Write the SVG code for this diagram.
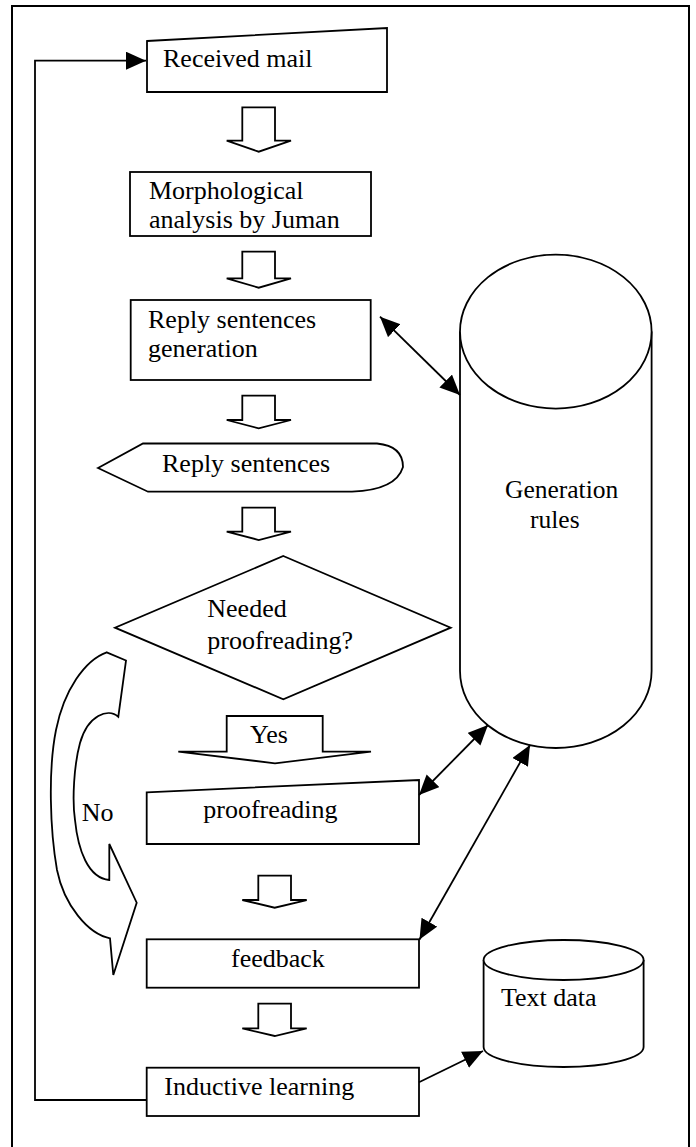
<svg xmlns="http://www.w3.org/2000/svg" width="696" height="1147" viewBox="0 0 696 1147">
<style>
.s{fill:#fff;stroke:#000;stroke-width:1.8}
.l{fill:none;stroke:#000;stroke-width:1.8}
.t{font-family:"Liberation Serif","Times New Roman",serif;font-size:26px;fill:#000}
</style>
<defs>
<marker id="ah" markerUnits="userSpaceOnUse" markerWidth="22" markerHeight="20" refX="20" refY="9" orient="auto-start-reverse">
<path d="M0,0 L20,9 L0,18 Z" fill="#000"/>
</marker>
</defs>
<rect x="12" y="6" width="677" height="1150" fill="#fff" stroke="#000" stroke-width="2"/>
<g id="received-mail">
<polygon class="s" points="147,41 387,28 387,92 147,92"/>
<text class="t" x="163" y="67">Received mail</text>
</g>
<g id="morphological">
<rect class="s" x="130" y="172" width="241" height="64"/>
<text class="t" x="149" y="199">Morphological</text>
<text class="t" x="149" y="228">analysis by Juman</text>
</g>
<g id="reply-generation">
<rect class="s" x="130.7" y="300" width="240" height="80"/>
<text class="t" x="148" y="328">Reply sentences</text>
<text class="t" x="148" y="357">generation</text>
</g>
<g id="reply-sentences">
<path class="s" d="M98,468 L143,443.5 L377,443.5 Q403,446 403,467 Q396,490 352,491.7 L148,491.7 Z"/>
<text class="t" x="162" y="471.5">Reply sentences</text>
</g>
<g id="decision">
<polygon class="s" points="283.3,556 450.7,627.7 283.3,699.3 115,627.7"/>
<text class="t" x="207.3" y="616.7">Needed</text>
<text class="t" x="207.3" y="648.5">proofreading?</text>
</g>
<g id="proofreading">
<polygon class="s" points="146.7,792.3 419,780 419,844 146.7,844"/>
<text class="t" x="203.3" y="818.3">proofreading</text>
</g>
<g id="feedback">
<rect class="s" x="146.7" y="939.3" width="272.3" height="48.4"/>
<text class="t" x="231" y="967.3">feedback</text>
</g>
<g id="inductive-learning">
<rect class="s" x="146.7" y="1067.7" width="272.3" height="48.3"/>
<text class="t" x="164.3" y="1095">Inductive learning</text>
</g>
<g id="generation-rules">
<path class="s" d="M460,331.6 L460,671 A95.8,77 0 0 0 651.6,671 L651.6,331.6"/>
<ellipse class="s" cx="555.8" cy="331.6" rx="95.8" ry="77"/>
<text class="t" x="505" y="498" style="font-size:25.5px">Generation</text>
<text class="t" x="530" y="528" style="font-size:25.5px">rules</text>
</g>
<g id="text-data">
<path class="s" d="M483.6,960 L483.6,1047 A80,20 0 0 0 643.6,1047 L643.6,960"/>
<ellipse class="s" cx="563.6" cy="960" rx="80" ry="20"/>
<text class="t" x="501" y="1006">Text data</text>
</g>
<g id="block-arrows">
<polygon class="s" points="242.3,107.3 275,107.3 275,140.7 291,140.7 258.7,151.7 226.7,140.7 242.3,140.7"/>
<polygon class="s" points="242.3,251.7 275,251.7 275,278.3 291,278.3 258.7,287.7 226.7,278.3 242.3,278.3"/>
<polygon class="s" points="242.3,395.7 275,395.7 275,420 291,420 258.7,428.3 226.7,420 242.3,420"/>
<polygon class="s" points="242.3,507.7 275,507.7 275,531.7 291,531.7 258.7,540 226.7,531.7 242.3,531.7"/>
<polygon class="s" points="226.7,716 322.7,716 322.7,751.7 371,751.7 275,763.3 178.3,751.7 226.7,751.7"/>
<text class="t" x="250" y="743.3">Yes</text>
<polygon class="s" points="258.3,875.7 291,875.7 291,900 306.7,900 274.7,907.7 242.3,900 258.3,900"/>
<polygon class="s" points="258.3,1003.7 291,1003.7 291,1028.3 306.7,1028.3 274.7,1036 242.3,1028.3 258.3,1028.3"/>
<path class="s" d="M106.7,652.3 L126,660.5 L118.3,716.7 C108,708 88,715 80,743 C74,765 72,800 75,820 C78,850 88,878 109.3,880 L109.3,844 L136.7,902.7 L113.3,975 L110,938.3 C88,934 64,905 57,870 C50,830 48,770 56,730 C64,690 85,660 106.7,652.3 Z"/>
<text class="t" x="81.7" y="820.7">No</text>
</g>
<g id="connectors">
<polyline class="l" points="146.7,1100 35,1100 35,60.7 146,60.7" marker-end="url(#ah)"/>
<line class="l" x1="380" y1="316.7" x2="460" y2="395" marker-start="url(#ah)" marker-end="url(#ah)"/>
<line class="l" x1="419" y1="795" x2="488" y2="725" marker-start="url(#ah)" marker-end="url(#ah)"/>
<line class="l" x1="419.5" y1="939.5" x2="530" y2="745" marker-start="url(#ah)" marker-end="url(#ah)"/>
<line class="l" x1="419" y1="1082.3" x2="483" y2="1051" marker-end="url(#ah)"/>
</g>
</svg>
